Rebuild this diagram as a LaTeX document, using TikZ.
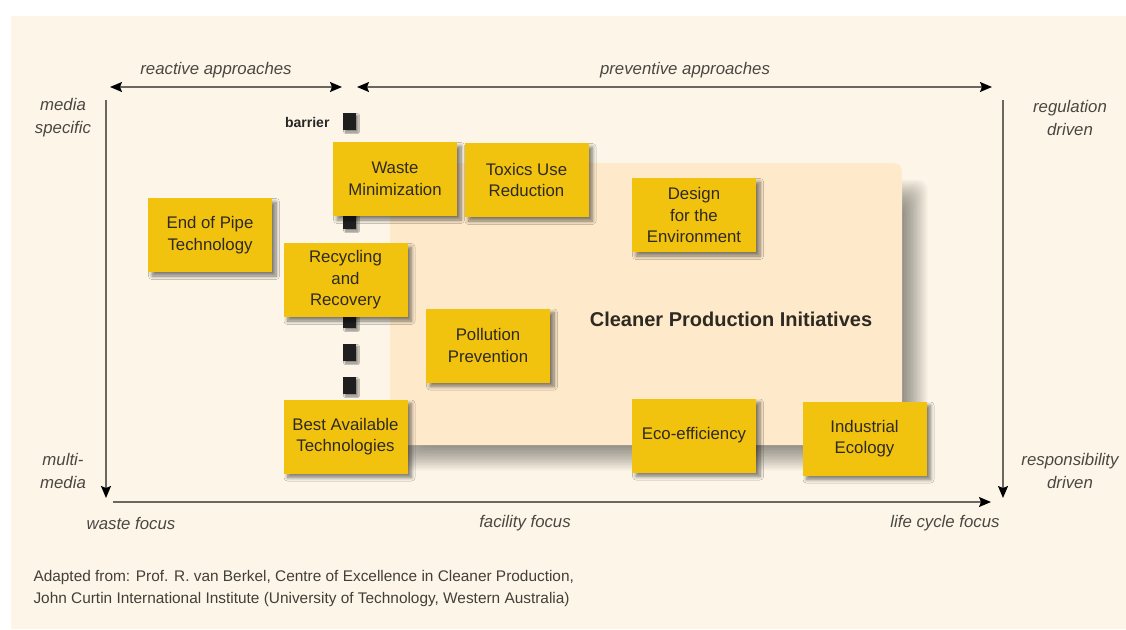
\documentclass[tikz,border=0pt]{standalone}
\usepackage{fontspec}
\setmainfont{Liberation Sans}
\usetikzlibrary{arrows.meta,shadows.blur}
\definecolor{paper}{HTML}{FDF6E8}
\definecolor{zone}{HTML}{FEEACB}
\definecolor{amber}{HTML}{F2C30E}
\definecolor{ink}{HTML}{2E2A22}
\definecolor{axisgray}{HTML}{6A6660}
\definecolor{labelgray}{HTML}{4A4742}

\begin{document}
\begin{tikzpicture}[x=1pt,y=-1pt,
  initiative/.style={fill=amber, minimum width=124pt, minimum height=74pt,
    inner sep=0pt, align=center, text=ink,
    font=\fontsize{16.8}{21.5}\selectfont,
    blur shadow={shadow xshift=4pt, shadow yshift=-4pt,
      shadow blur radius=3.5pt, shadow blur steps=8, shadow opacity=50}},
  barrierbox/.style={fill=black!88,
    blur shadow={shadow xshift=2pt, shadow yshift=-2pt,
      shadow blur radius=1.5pt, shadow blur steps=4, shadow opacity=45}},
  haze/.style={fill=black, opacity=0.026, rounded corners=10pt},
  axis/.style={draw=axisgray, line width=1.4pt},
  axislabel/.style={text=labelgray, align=center,
    font=\fontsize{16.8}{23}\selectfont\itshape},
  tipend/.style={-{Stealth[length=12pt,width=10pt,inset=2pt,color=black]}},
  tipboth/.style={{Stealth[length=12pt,width=10pt,inset=2pt,color=black]}-{Stealth[length=12pt,width=10pt,inset=2pt,color=black]}},
]
\useasboundingbox (0,0) rectangle (1126,629);
% page and panel
\fill[white] (0,0) rectangle (1126,629);
\fill[paper] (11,16) rectangle (1126,629);

% soft shadow of the cleaner production zone, built from stacked layers
\foreach \r in {-13,-11.5,...,13}
  \fill[haze] ({405-\r},{192-\r}) rectangle ({915+\r},{458+\r});
% cleaner production zone
\fill[zone]
  (390,445) -- (390,163) -- (884,163) .. controls (902,163) .. (902,181)
  -- (902,445) -- cycle;
\node[font=\fontsize{20}{24}\selectfont\bfseries, text=ink] (cpi) at (731,319)
  {Cleaner Production Initiatives};

% barrier between reactive and preventive approaches
\foreach \y in {113,146,...,377}
  \fill[barrierbox] (343,\y) rectangle ++(13,17);
\node[anchor=east, font=\fontsize{14}{16}\selectfont\bfseries, text=black!85]
  (barrier) at (333,122) {barrier};

% initiatives
\node[initiative] (eop) at (210,235) {End of Pipe\\Technology};
\node[initiative] (wm)  at (395,179) {Waste\\Minimization};
\node[initiative] (tur) at (526.5,180) {Toxics Use\\Reduction};
\node[initiative] (dfe) at (694,215) {Design\\for the\\Environment};
\node[initiative] (rr)  at (345.5,280) {Recycling\\and\\Recovery};
\node[initiative] (pp)  at (488,345.5) {Pollution\\Prevention};
\node[initiative] (bat) at (345.5,436.5) {Best Available\\Technologies};
\node[initiative] (eco) at (694,435.5) {Eco-efficiency};
\node[initiative] (ie)  at (864.5,438.5) {Industrial\\Ecology};

% axes
\coordinate (reactL) at (110,87);
\coordinate (reactR) at (342,87);
\coordinate (prevL)  at (357,87);
\coordinate (prevR)  at (992,87);
\coordinate (leftT)  at (106,100);
\coordinate (leftB)  at (106,498);
\coordinate (rightT) at (1003,100);
\coordinate (rightB) at (1003,498);
\coordinate (botL)   at (113,502);
\coordinate (botR)   at (991,502);

\draw[axis, tipboth] (reactL) -- (reactR);
\draw[axis, tipboth] (prevL) -- (prevR);
\draw[axis, tipend] (leftT) -- (leftB);
\draw[axis, tipend] (rightT) -- (rightB);
\draw[axis, tipend] (botL) -- (botR);

% axis labels
\node[axislabel] (reactive)   at (216,70)   {reactive approaches};
\node[axislabel] (preventive) at (685,70)   {preventive approaches};
\node[axislabel] (media)      at (63,118)   {media\\specific};
\node[axislabel] (multi)      at (63,471)   {multi-\\media};
\node[axislabel] (regulation) at (1070,118) {regulation\\driven};
\node[axislabel] (resp)       at (1070,471) {responsibility\\driven};
\node[axislabel] (waste)      at (131,523)  {waste focus};
\node[axislabel] (facility)   at (525,523)  {facility focus};
\node[axislabel] (lifecycle)  at (945,523)  {life cycle focus};

% source note
\node[anchor=west, align=left, text=ink!90,
  font=\fontsize{15.4}{22}\selectfont] (source) at (30,589)
  {Adapted from: Prof. R. van Berkel, Centre of Excellence in Cleaner Production,\\
   John Curtin International Institute (University of Technology, Western Australia)};
\end{tikzpicture}
\end{document}
